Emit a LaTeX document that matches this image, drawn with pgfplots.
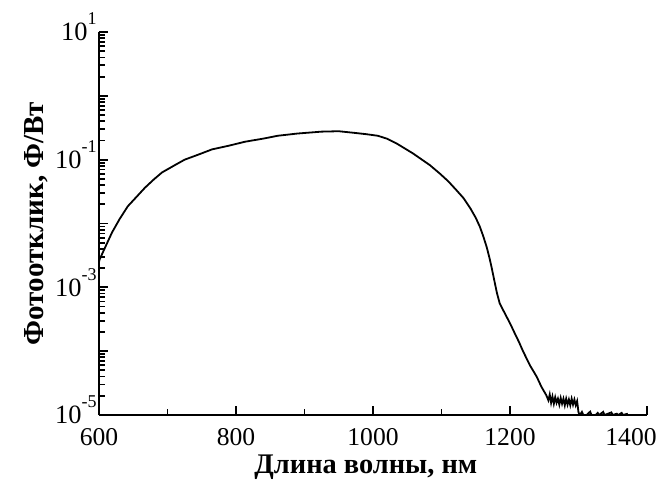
\documentclass[border=0pt]{standalone}
\usepackage{fontspec}
\setmainfont{Liberation Serif}
\usepackage{pgfplots}
\pgfplotsset{compat=1.18}
\newcommand\dec[1]{10\raisebox{0.6em}{\fontsize{9}{10}\selectfont#1}}

\begin{document}
\begin{tikzpicture}
\begin{semilogyaxis}[
	scale only axis,
	width=274pt, height=191.5pt,
	xmin=600, xmax=1400,
	ymin=1e-5, ymax=10,
	axis x line*=bottom, axis y line*=left,
	axis line style={line width=1.3pt},
	tick align=inside,
	tick style={line width=0.9pt,black},
	major tick length=4.5pt,
	minor tick length=2.8pt,
	xtick={600,800,1000,1200},
	xticklabels={600,800,1000,1200},
	minor xtick={700,900,1100,1300},
	extra x ticks={1400},
	extra x tick labels={1400},
	extra x tick style={xticklabel style={xshift=-8pt}},
	ytick={1e-5,1e-4,1e-3,1e-2,1e-1,1,10},
	yticklabels={\dec{-5},,\dec{-3},,\dec{-1},,\dec{1}},
	xticklabel style={font=\fontsize{12.8}{14}\selectfont, anchor=north, inner sep=0pt, yshift=-6.5pt},
	yticklabel style={font=\fontsize{13.2}{14}\selectfont, anchor=base east, inner sep=0pt, xshift=-1pt, yshift=-4.4pt},
	xlabel={Длина волны, нм},
	ylabel={Фотоотклик, Ф/Вт},
	xlabel style={font=\fontsize{14.2}{16}\selectfont\bfseries, at={(axis description cs:0.487,-0.153)}, anchor=base},
	ylabel style={font=\fontsize{14.5}{16}\selectfont\bfseries, at={(axis description cs:-0.1004,0.5)}, anchor=base, rotate=0},
]
\addplot[black, line width=0.9pt] coordinates {
(600,2.51e-3) (601,2.75e-3) (610,4.47e-3) (619,7.24e-3) (630,1.17e-2)
(642,1.86e-2) (655,2.63e-2) (667,3.63e-2) (680,4.90e-2) (692,6.31e-2)
(710,8.13e-2) (725,0.100) (745,0.120) (765,0.145) (790,0.166)
(813,0.191) (840,0.214) (861,0.237) (890,0.257) (925,0.275)
(950,0.279) (973,0.263) (990,0.251) (1007,0.237) (1020,0.214)
(1035,0.178) (1058,0.126) (1083,8.22e-2) (1098,6.0e-2) (1110,4.57e-2)
(1122,3.31e-2) (1132,2.51e-2) (1142,1.74e-2) (1150,1.23e-2) (1156,8.9e-3)
(1161,6.3e-3) (1166,4.27e-3) (1170,2.9e-3) (1173,2.09e-3) (1178,1.15e-3)
(1181,8.1e-4) (1185,5.6e-4) (1190,4.4e-4) (1195,3.47e-4) (1201,2.6e-4)
(1207,1.9e-4) (1213,1.4e-4) (1219,1.0e-4) (1229,6.03e-5) (1239,3.98e-5)
(1246,2.75e-5) (1253,2.04e-5)
(1256,1.70e-5) (1258,2.1e-5) (1260,1.55e-5) (1262,1.95e-5) (1264,1.5e-5)
(1266,1.9e-5) (1268,1.55e-5) (1270,1.8e-5) (1272,1.45e-5) (1274,1.85e-5)
(1276,1.5e-5) (1278,1.8e-5) (1280,1.42e-5) (1282,1.8e-5) (1284,1.45e-5)
(1286,1.75e-5) (1288,1.42e-5) (1290,1.8e-5) (1292,1.45e-5) (1294,1.75e-5)
(1296,1.42e-5) (1298,1.65e-5) (1300,1.1e-5) (1302,1.0e-5) (1305,1.12e-5)
(1307,1.0e-5) (1312,1.0e-5) (1317,1.13e-5) (1319,1.0e-5) (1325,1.0e-5)
(1328,1.08e-5) (1330,1.0e-5) (1336,1.12e-5) (1338,1.0e-5) (1348,1.1e-5)
(1350,1.0e-5) (1356,1.05e-5) (1358,1.0e-5) (1363,1.08e-5) (1365,1.0e-5)
(1372,1.05e-5)
};
\end{semilogyaxis}
\pgfresetboundingbox
\path (-49.5pt,-32pt) rectangle (279.5pt,207.5pt);
\end{tikzpicture}
\end{document}
